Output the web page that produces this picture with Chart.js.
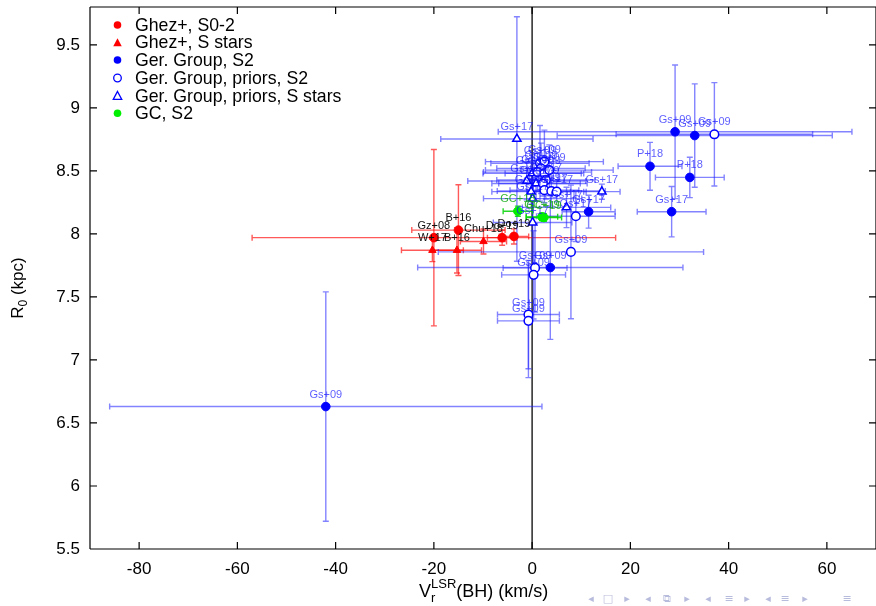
<!DOCTYPE html>
<html><head><meta charset="utf-8">
<script src="https://cdn.jsdelivr.net/npm/chart.js@4/dist/chart.umd.min.js"></script>
<style>html,body{margin:0;padding:0;background:#fff;overflow:hidden}canvas{display:block}</style>
</head><body>
<canvas id="c" width="876" height="606"></canvas>
<script>
// ---- axes ----
const xTicks = [-80, -60, -40, -20, 0, 20, 40, 60];
const yTicks = [5.5, 6, 6.5, 7, 7.5, 8, 8.5, 9, 9.5];
const xRange = [-90, 70];
const yRange = [5.5, 9.8];

// ---- Ghez+, S0-2 ----
const ghezS02X    = [-20.0, -15.0, -6.1, -3.7];
const ghezS02Y    = [7.97, 8.03, 7.97, 7.98];
const ghezS02XErr = [37, 9.5, 3, 3];
const ghezS02YErr = [0.70, 0.36, 0.06, 0.06];
const ghezS02Lbl  = ['Gz+08', 'B+16', 'Do+19', 'Do+19'];

// ---- Ghez+, S stars ----
const ghezSX    = [-20.3, -15.3, -9.9];
const ghezSY    = [7.87, 7.87, 7.94];
const ghezSXErr = [6.3, 5, 4.7];
const ghezSYErr = [0.09, 0.18, 0.10];
const ghezSLbl  = ['W+17', 'B+16', 'Chu+18'];

// ---- Ger. Group, S2 ----
const gerS2X    = [-42.0, 29.1, 33.1, 24.0, 32.1, 28.4, 11.5, 3.7];
const gerS2Y    = [6.63, 8.81, 8.78, 8.536, 8.448, 8.176, 8.176, 7.733];
const gerS2XErr = [44, 36, 28, 6.5, 7, 7, 5.4, 27];
const gerS2YErr = [0.91, 0.53, 0.41, 0.19, 0.16, 0.20, 0.13, 0.57];
const gerS2Lbl  = ['Gs+09', 'Gs+09', 'Gs+09', 'P+18', 'P+18', 'Gs+17', 'Gs+17', 'Gs+09'];

// ---- Ger. Group, priors, S2 ----
const gerPS2X    = [37.1, 7.9, 0.6, 0.3, -0.75, -0.75, 8.9, 1.6, 2.5, 1.8, 1.1, 2.5, 3.5, 2.8, 2.2, 2.5, 3.9, 5.0];
const gerPS2Y    = [8.79, 7.857, 7.73, 7.675, 7.36, 7.31, 8.14, 8.56, 8.573, 8.52, 8.49, 8.48, 8.506, 8.427, 8.40, 8.347, 8.34, 8.335];
const gerPS2XErr = [20, 27, 6.5, 6.5, 6.3, 6.3, 8, 10, 12, 9, 11, 8, 13, 10, 9, 7, 11, 6];
const gerPS2YErr = [0.41, 0.53, 0.35, 0.35, 0.43, 0.45, 0.20, 0.30, 0.25, 0.20, 0.15, 0.12, 0.20, 0.15, 0.10, 0.10, 0.12, 0.08];
const gerPS2Lbl  = ['Gs+09', 'Gs+09', 'Gs+09', 'Gs+09', 'Gs+09', 'Gs+09', 'Gs+17', 'Gs+09', 'Gs+09', 'Gs+09', 'Gs+09', 'Gs+09', 'Gs+09', 'Gs+17', 'Gs+09', 'Gs+09', 'Gs+17', 'Gs+17'];

// ---- Ger. Group, priors, S stars ----
const gerPSX    = [-3.1, 14.2, 7.0, 0.0, -1.1, 0.8, -0.2, 0.1, 0.1];
const gerPSY    = [8.753, 8.335, 8.21, 8.48, 8.42, 8.40, 8.335, 8.28, 8.09];
const gerPSXErr = [15.5, 3.7, 9, 10, 12, 9, 8, 10, 8];
const gerPSYErr = [0.97, 0.06, 0.16, 0.15, 0.15, 0.12, 0.10, 0.15, 0.35];
const gerPSLbl  = ['Gs+17', 'Gs+17', 'Gs+17', 'Gs+17', 'Gs+17', 'Gs+17', 'Gs+17', 'Gs+17', 'Gs+17'];

// ---- GC, S2 ----
const gcX    = [-2.9, 2.0, 2.4];
const gcY    = [8.18, 8.135, 8.13];
const gcXErr = [3, 3.2, 3.6];
const gcYErr = [0.04, 0.03, 0.03];
const gcLbl  = ['GC+18', 'GC+19', 'GC+19'];

const FONT = '"Liberation Sans", Arial, Helvetica, sans-serif';

function mk(X, Y, XE, YE, L) {
  return X.map((v, i) => ({ x: v, y: Y[i], xe: XE[i], ye: YE[i], lbl: L[i] }));
}

const BLUE = '#0000ff', RED = '#ff0000', GREEN = '#00ee00';
const datasets = [
  { label: 'Ghez+, S0-2', data: mk(ghezS02X, ghezS02Y, ghezS02XErr, ghezS02YErr, ghezS02Lbl),
    pointStyle: 'circle', pointRadius: 4.3, backgroundColor: RED, borderColor: RED, borderWidth: 1,
    errColor: 'rgba(255,0,0,0.65)', lblColor: '#111', order: 1, sym: 'fc' },
  { label: 'Ghez+, S stars', data: mk(ghezSX, ghezSY, ghezSXErr, ghezSYErr, ghezSLbl),
    pointStyle: 'triangle', pointRadius: 4.3, backgroundColor: RED, borderColor: RED, borderWidth: 1,
    errColor: 'rgba(255,0,0,0.65)', lblColor: '#111', order: 1, sym: 'ft' },
  { label: 'Ger. Group, S2', data: mk(gerS2X, gerS2Y, gerS2XErr, gerS2YErr, gerS2Lbl),
    pointStyle: 'circle', pointRadius: 4.3, backgroundColor: BLUE, borderColor: BLUE, borderWidth: 1,
    errColor: 'rgba(30,30,255,0.55)', lblColor: 'rgba(20,20,255,0.7)', order: 2, sym: 'fc' },
  { label: 'Ger. Group, priors, S2', data: mk(gerPS2X, gerPS2Y, gerPS2XErr, gerPS2YErr, gerPS2Lbl),
    pointStyle: 'circle', pointRadius: 4.3, backgroundColor: '#ffffff', borderColor: BLUE, borderWidth: 1.5,
    errColor: 'rgba(30,30,255,0.55)', lblColor: 'rgba(20,20,255,0.7)', order: 3, sym: 'oc' },
  { label: 'Ger. Group, priors, S stars', data: mk(gerPSX, gerPSY, gerPSXErr, gerPSYErr, gerPSLbl),
    pointStyle: 'triangle', pointRadius: 4.8, backgroundColor: '#ffffff', borderColor: BLUE, borderWidth: 1.5,
    errColor: 'rgba(30,30,255,0.55)', lblColor: 'rgba(20,20,255,0.7)', order: 3, sym: 'ot' },
  { label: 'GC, S2', data: mk(gcX, gcY, gcXErr, gcYErr, gcLbl),
    pointStyle: 'circle', pointRadius: 4.3, backgroundColor: GREEN, borderColor: GREEN, borderWidth: 1,
    errColor: 'rgba(0,210,0,0.85)', lblColor: 'rgba(20,170,20,0.85)', order: 0, sym: 'fc' }
];

function drawSym(ctx, sym, color, x, y) {
  ctx.save();
  ctx.lineWidth = 1.3;
  ctx.strokeStyle = color; ctx.fillStyle = color;
  const r = 3.8;
  if (sym === 'fc' || sym === 'oc') {
    ctx.beginPath(); ctx.arc(x, y, r, 0, Math.PI * 2);
    if (sym === 'fc') ctx.fill(); else { ctx.fillStyle = '#fff'; ctx.fill(); ctx.stroke(); }
  } else {
    const h = 7.5, w = 8.5;
    ctx.beginPath(); ctx.moveTo(x, y - h / 2 - 0.5); ctx.lineTo(x + w / 2, y + h / 2); ctx.lineTo(x - w / 2, y + h / 2); ctx.closePath();
    if (sym === 'ft') ctx.fill(); else { ctx.fillStyle = '#fff'; ctx.fill(); ctx.stroke(); }
  }
  ctx.restore();
}

const deco = {
  id: 'deco',
  beforeDatasetsDraw(chart) {
    const { ctx, chartArea: a, scales: { x, y } } = chart;
    ctx.save();
    ctx.beginPath(); ctx.rect(a.left, a.top, a.right - a.left, a.bottom - a.top); ctx.clip();
    const x0 = x.getPixelForValue(0);
    ctx.strokeStyle = '#333'; ctx.lineWidth = 1.6;
    ctx.beginPath(); ctx.moveTo(x0, a.top); ctx.lineTo(x0, a.bottom); ctx.stroke();
    const cap = 3;
    chart.data.datasets.forEach(ds => {
      ctx.strokeStyle = ds.errColor; ctx.lineWidth = 1.4;
      ds.data.forEach(p => {
        const px = x.getPixelForValue(p.x), py = y.getPixelForValue(p.y);
        const xl = x.getPixelForValue(p.x - p.xe), xr = x.getPixelForValue(p.x + p.xe);
        const yt = y.getPixelForValue(p.y + p.ye), yb = y.getPixelForValue(p.y - p.ye);
        ctx.beginPath();
        ctx.moveTo(xl, py); ctx.lineTo(xr, py);
        ctx.moveTo(xl, py - cap); ctx.lineTo(xl, py + cap);
        ctx.moveTo(xr, py - cap); ctx.lineTo(xr, py + cap);
        ctx.moveTo(px, yt); ctx.lineTo(px, yb);
        ctx.moveTo(px - cap, yt); ctx.lineTo(px + cap, yt);
        ctx.moveTo(px - cap, yb); ctx.lineTo(px + cap, yb);
        ctx.stroke();
      });
    });
    ctx.restore();
  },
  afterDatasetsDraw(chart) {
    const { ctx, chartArea: a, scales: { x, y } } = chart;
    ctx.save();
    ctx.font = `11px ${FONT}`;
    ctx.textAlign = 'center'; ctx.textBaseline = 'middle';
    chart.data.datasets.forEach(ds => {
      ctx.fillStyle = ds.lblColor;
      ds.data.forEach(p => {
        ctx.fillText(p.lbl, x.getPixelForValue(p.x), y.getPixelForValue(p.y) - 12);
      });
    });
    ctx.restore();

    ctx.save();
    ctx.strokeStyle = '#000'; ctx.lineWidth = 1.2;
    ctx.beginPath();
    ctx.moveTo(a.left, a.top); ctx.lineTo(a.right, a.top);
    ctx.moveTo(a.left, a.top); ctx.lineTo(a.left, a.bottom);
    ctx.moveTo(a.left, a.bottom); ctx.lineTo(a.right, a.bottom);
    ctx.moveTo(a.right, a.top); ctx.lineTo(a.right, a.bottom);
    const tl = 7;
    xTicks.forEach(v => {
      const px = x.getPixelForValue(v);
      ctx.moveTo(px, a.bottom); ctx.lineTo(px, a.bottom - tl);
      ctx.moveTo(px, a.top); ctx.lineTo(px, a.top + tl);
    });
    yTicks.forEach(v => {
      const py = y.getPixelForValue(v);
      ctx.moveTo(a.left, py); ctx.lineTo(a.left + tl, py);
      ctx.moveTo(a.right, py); ctx.lineTo(a.right - tl, py);
    });
    ctx.stroke();
    ctx.restore();

    ctx.save();
    ctx.font = `17.7px ${FONT}`;
    ctx.fillStyle = '#000'; ctx.textBaseline = 'middle'; ctx.textAlign = 'left';
    const rows = [25, 42.5, 60, 78, 95.7, 113.3];
    chart.data.datasets.forEach((ds, i) => {
      drawSym(ctx, ds.sym, ds.borderColor, a.left + 27.5, rows[i]);
      ctx.fillStyle = '#000';
      ctx.fillText(ds.label, a.left + 45, rows[i] + 1);
    });
    ctx.restore();

    ctx.save();
    ctx.fillStyle = '#000'; ctx.textBaseline = 'alphabetic'; ctx.textAlign = 'left';
    let tx = 419; const base = 597;
    ctx.font = `18px ${FONT}`; ctx.fillText('V', tx, base); tx += ctx.measureText('V').width;
    ctx.font = `13px ${FONT}`;
    ctx.fillText('LSR', tx, base - 9);
    ctx.fillText('r', tx, base + 5);
    tx += Math.max(ctx.measureText('LSR').width, ctx.measureText('r').width);
    ctx.font = `18px ${FONT}`; ctx.fillText('(BH) (km/s)', tx, base);
    ctx.translate(23, 288); ctx.rotate(-Math.PI / 2);
    ctx.font = `17px ${FONT}`;
    const wR = ctx.measureText('R').width;
    ctx.font = `12px ${FONT}`; const w0 = ctx.measureText('0').width;
    ctx.font = `17px ${FONT}`; const wK = ctx.measureText(' (kpc)').width;
    let sx = -(wR + w0 + wK) / 2;
    ctx.fillText('R', sx, 0); sx += wR;
    ctx.font = `12px ${FONT}`; ctx.fillText('0', sx, 4); sx += w0;
    ctx.font = `17px ${FONT}`; ctx.fillText(' (kpc)', sx, 0);
    ctx.restore();

    ctx.save();
    ctx.fillStyle = '#b8bcdc';
    ctx.font = `11px "DejaVu Sans", sans-serif`;
    ctx.textBaseline = 'middle'; ctx.textAlign = 'center';
    const nav = [['◂', 591], ['□', 608], ['▸', 627], ['◂', 648], ['⧉', 667], ['▸', 687], ['◂', 708], ['≡', 729], ['▸', 747], ['◂', 768], ['≡', 785], ['▸', 805], ['≡', 847]];
    nav.forEach(([s, px]) => ctx.fillText(s, px, 599));
    ctx.restore();
  }
};

new Chart(document.getElementById('c'), {
  type: 'scatter',
  data: { datasets },
  options: {
    responsive: false,
    devicePixelRatio: 1,
    animation: false,
    layout: { autoPadding: false, padding: { top: 7, left: 0, right: -1, bottom: 0 } },
    plugins: { legend: { display: false }, tooltip: { enabled: false } },
    scales: {
      x: {
        type: 'linear', min: xRange[0], max: xRange[1],
        afterBuildTicks: s => { s.ticks = xTicks.map(v => ({ value: v })); },
        afterFit: s => { s.height = 57; s.paddingLeft = 0; s.paddingRight = 0; },
        grid: { display: false, drawTicks: false },
        border: { display: false },
        ticks: { font: { family: FONT, size: 17 }, color: '#000', padding: 10, maxRotation: 0, autoSkip: false,
                 callback: v => String(v) }
      },
      y: {
        type: 'linear', min: yRange[0], max: yRange[1],
        afterBuildTicks: s => { s.ticks = yTicks.map(v => ({ value: v })); },
        afterFit: s => { s.width = 90; s.paddingTop = 0; s.paddingBottom = 0; },
        grid: { display: false, drawTicks: false },
        border: { display: false },
        ticks: { font: { family: FONT, size: 17 }, color: '#000', padding: 10, autoSkip: false,
                 callback: v => String(v) }
      }
    }
  },
  plugins: [deco]
});
</script>
</body></html>
